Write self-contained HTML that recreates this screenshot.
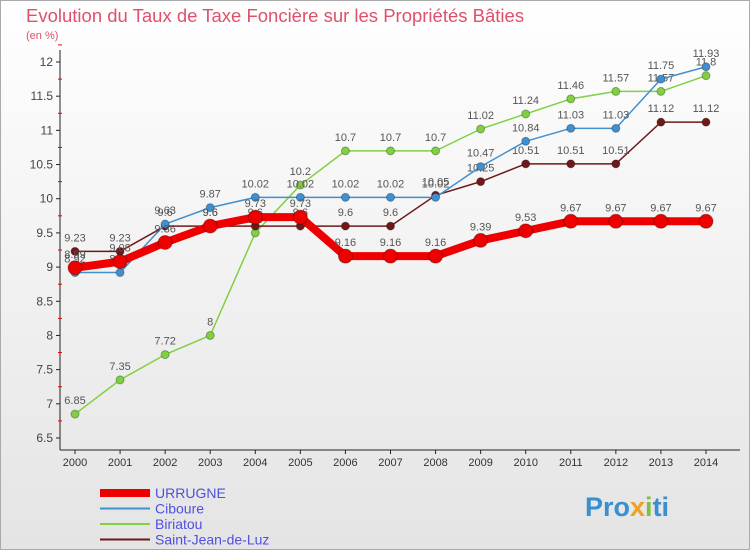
<!DOCTYPE html>
<html><head><meta charset="utf-8"><style>
body{margin:0;width:750px;height:550px;overflow:hidden;font-family:"Liberation Sans",sans-serif}
</style></head><body>
<svg id="c" width="750" height="550" xmlns="http://www.w3.org/2000/svg">
<defs><linearGradient id="bg" x1="0" y1="0" x2="0" y2="1"><stop offset="0" stop-color="#ffffff"/><stop offset="1" stop-color="#e4e4e4"/></linearGradient></defs>
<rect x="0.5" y="0.5" width="749" height="549" fill="url(#bg)" stroke="#aaa"/>
<text x="26" y="22" font-size="18.5" fill="#e0506a">Evolution du Taux de Taxe Foncière sur les Propriétés Bâties</text>
<text x="26" y="39" font-size="11" fill="#e0506a">(en %)</text>
<g id="axes"></g><g id="series"></g><g id="legend"></g>
<text x="585" y="516" font-size="27" font-weight="bold" fill="#3a8fd0">Pro<tspan fill="#f0a020">x</tspan><tspan fill="#80c040">i</tspan>ti</text>
</svg>
<script>
const years=[2000,2001,2002,2003,2004,2005,2006,2007,2008,2009,2010,2011,2012,2013,2014];
const yTicks=[6.5,7,7.5,8,8.5,9,9.5,10,10.5,11,11.5,12];
const urrugne=[8.99,9.08,9.36,9.6,9.73,9.73,9.16,9.16,9.16,9.39,9.53,9.67,9.67,9.67,9.67];
const ciboure=[8.92,8.92,9.63,9.87,10.02,10.02,10.02,10.02,10.02,10.47,10.84,11.03,11.03,11.75,11.93];
const biriatou=[6.85,7.35,7.72,8,9.5,10.2,10.7,10.7,10.7,11.02,11.24,11.46,11.57,11.57,11.8];
const sjdl=[9.23,9.23,9.6,9.6,9.6,9.6,9.6,9.6,10.05,10.25,10.51,10.51,10.51,11.12,11.12];
const NS="http://www.w3.org/2000/svg";
const xS=i=>75+i*(706-75)/(years.length-1);
const yS=v=>438-(v-6.5)*(438-62)/5.5;
function mk(t,a,p){const e=document.createElementNS(NS,t);for(const k in a)e.setAttribute(k,a[k]);p.appendChild(e);return e;}
const ax=document.getElementById('axes');
let l=mk('line',{x1:60,y1:50,x2:60,y2:450,stroke:'#222'},ax);


l=mk('line',{x1:60,y1:450,x2:740,y2:450,stroke:'#222'},ax);


yTicks.forEach(v=>{
 mk('line',{x1:56,y1:yS(v),x2:60,y2:yS(v),stroke:'#222'},ax);
 mk('line',{x1:58,y1:yS(v+0.25),x2:62,y2:yS(v+0.25),stroke:'#e00'},ax);
 const t=mk('text',{x:53,y:yS(v)+4,'font-size':12,'text-anchor':'end',fill:'#444'},ax);
 t.textContent=v;
 
 
});
years.forEach((y,i)=>{
 mk('line',{x1:xS(i),y1:450,x2:xS(i),y2:454,stroke:'#222'},ax);
 const t=mk('text',{x:xS(i),y:466,'font-size':11,'text-anchor':'middle',fill:'#333'},ax);
 t.textContent=y;
 
 
});
const sg=document.getElementById('series');
function draw(vals,color,w,r,name,labels){
 const g=mk('g',{},sg);
 
 
 mk('polyline',{points:vals.map((v,i)=>xS(i)+','+yS(v)).join(' '),fill:'none',stroke:color,'stroke-width':w,'stroke-linejoin':'round'},g);
 vals.forEach((v,i)=>{
  const c=mk('circle',{cx:xS(i),cy:yS(v),r:r,fill:color,stroke:'rgba(0,0,0,0.3)'},g);
  
  
  if(labels){const t=mk('text',{x:xS(i),y:yS(v)-10,'font-size':11,'text-anchor':'middle',fill:'#555'},g);t.textContent=v;
  
  }
 });
}
draw(biriatou,'#80d040',1.5,4,'biriatou',true);
draw(sjdl,'#701818',1.5,4,'saint-jean-de-luz',true);
draw(ciboure,'#4090d0',1.5,4,'ciboure',true);
draw(urrugne,'#ee0000',8,7,'urrugne',true);
const lg=document.getElementById('legend');
const items=[['URRUGNE','#ee0000',8],['Ciboure','#4090d0',2],['Biriatou','#80d040',2],['Saint-Jean-de-Luz','#701818',2]];
items.forEach((it,k)=>{
 const y=493+k*15.5;
 const g=mk('g',{},lg);
 
 
 mk('line',{x1:100,y1:y,x2:150,y2:y,stroke:it[1],'stroke-width':it[2]},g);
 const t=mk('text',{x:155,y:y+5,'font-size':14,fill:'#5050e0'},g);t.textContent=it[0];
});
</script>
</body></html>
